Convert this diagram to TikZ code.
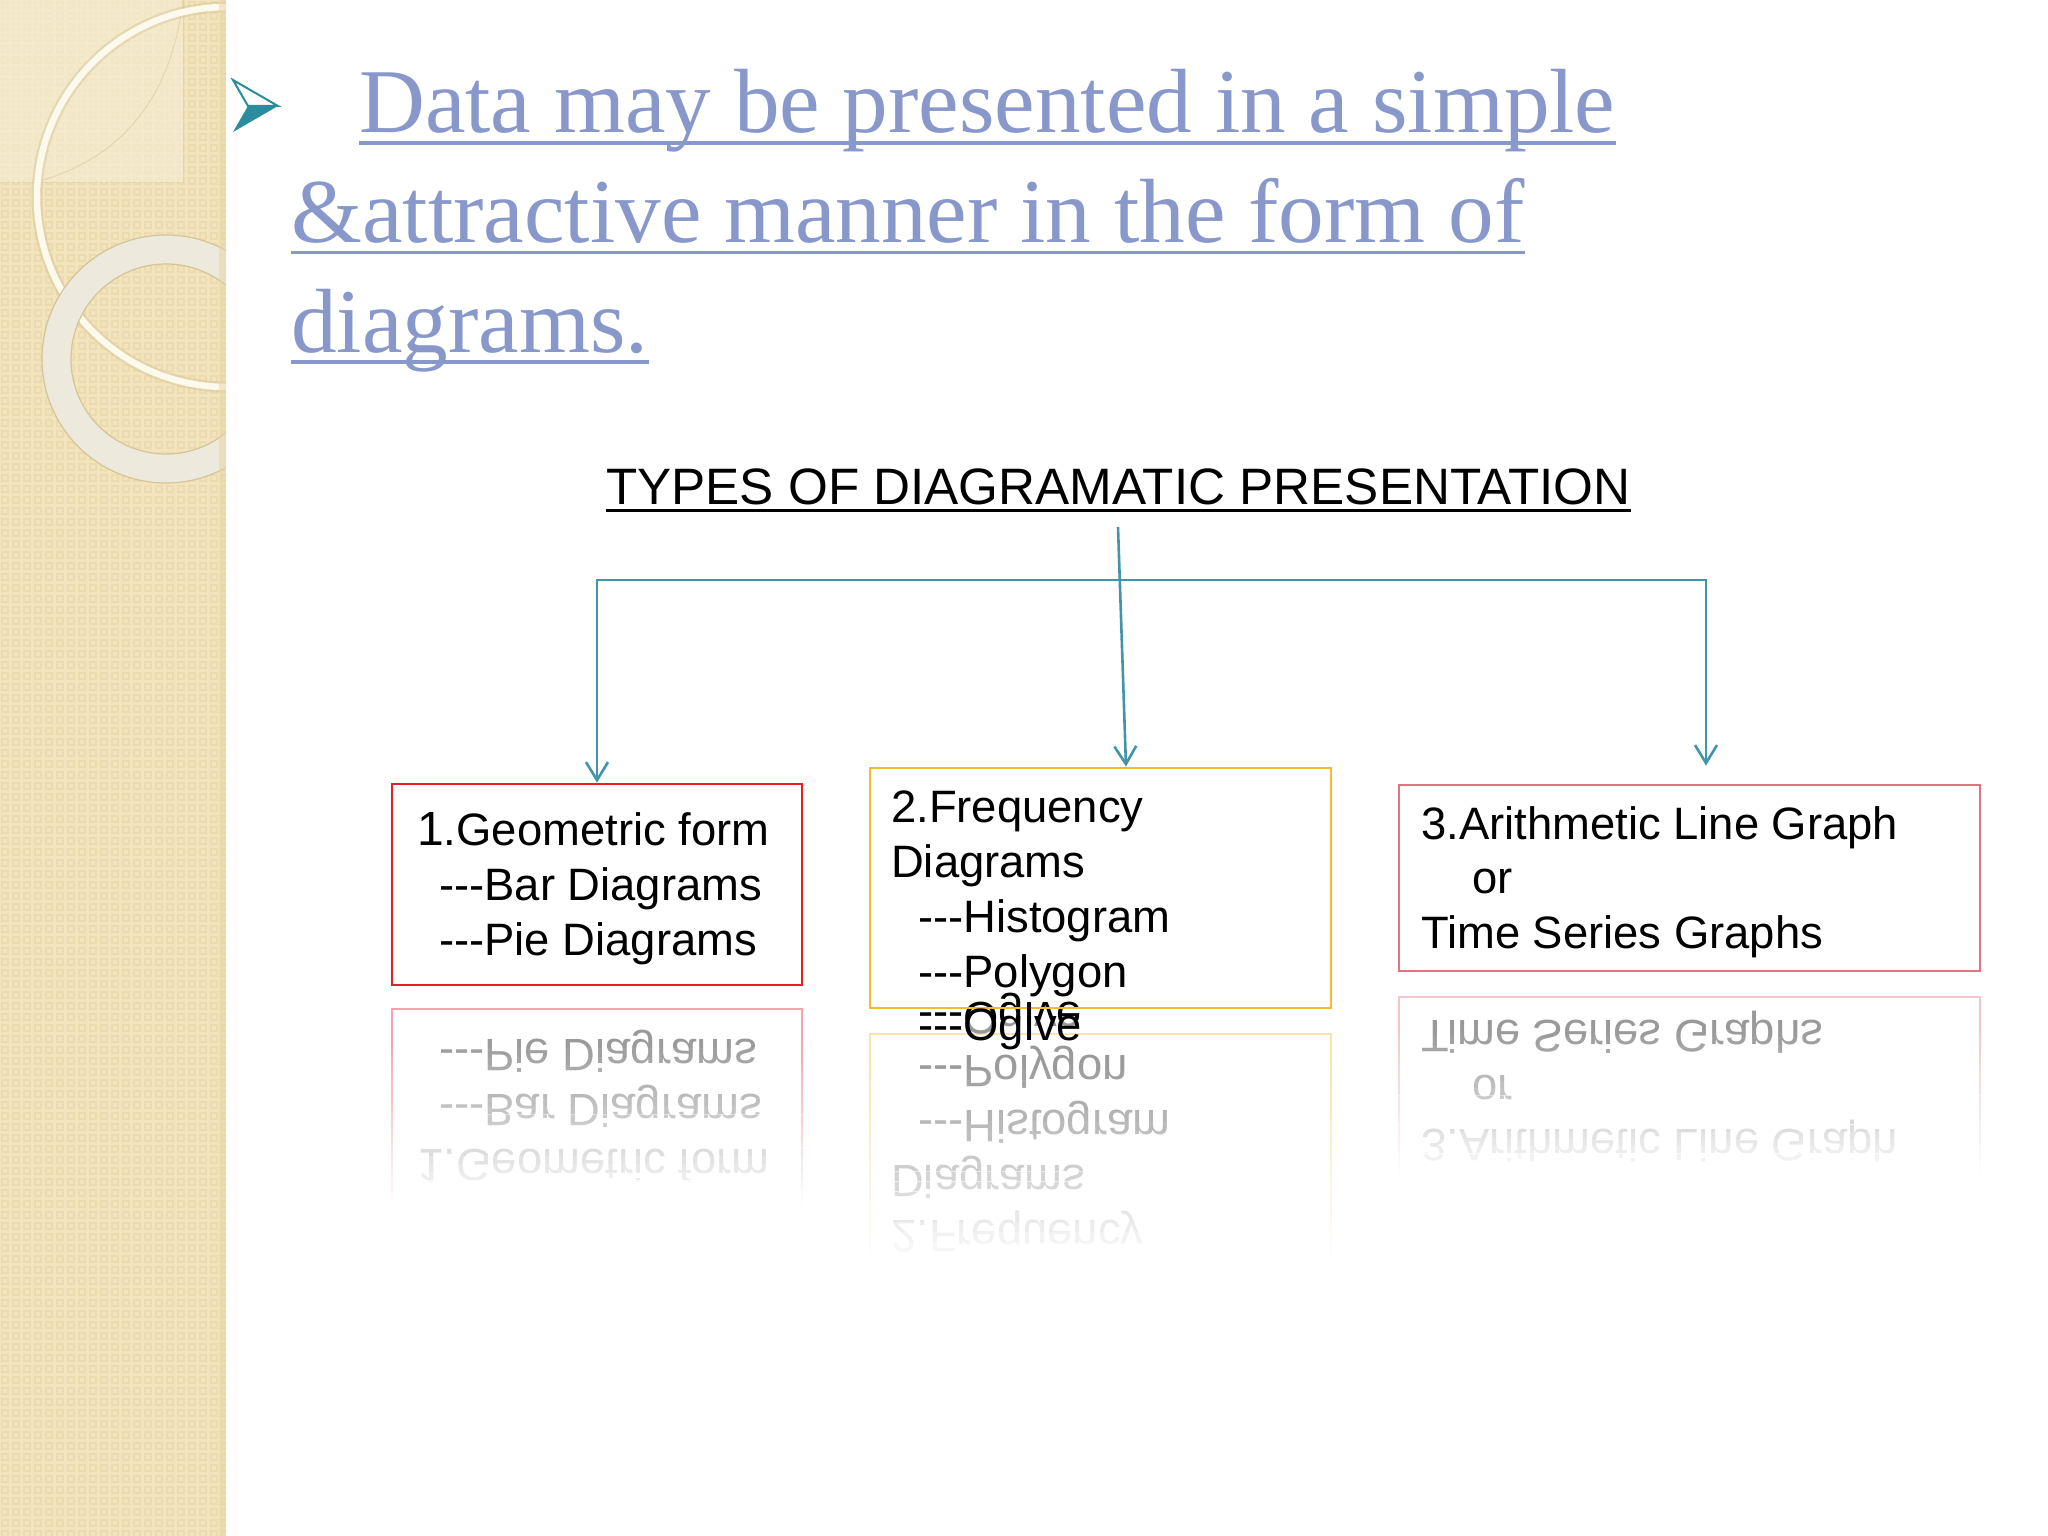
\documentclass[tikz,border=0pt]{standalone}
\usepackage{fontspec}
\setmainfont{Liberation Serif}
\newfontfamily\arialf{Liberation Sans}
\usetikzlibrary{arrows.meta}
\definecolor{stripe}{RGB}{242,228,188}
\definecolor{stripedark}{RGB}{231,213,165}
\definecolor{stripelight}{RGB}{246,238,214}
\definecolor{ringthin}{RGB}{253,249,236}
\definecolor{ringthick}{RGB}{237,233,220}
\definecolor{ringedge}{RGB}{212,196,150}
\definecolor{titleblue}{RGB}{137,152,203}
\definecolor{bulletteal}{RGB}{42,140,156}
\definecolor{conncol}{RGB}{66,148,170}
\definecolor{boxred}{RGB}{230,30,40}
\definecolor{boxorange}{RGB}{246,186,48}
\definecolor{boxpink}{RGB}{222,118,126}
\newcommand\tdash{-\kern0pt-\kern0pt-}
\newcommand\boxonecontent[1]{%
  \node[boxframe=boxred, minimum width=410pt, minimum height=201pt] (#1box) at (597,884.5) {};
  \node[bt] (#1a) at (417,845) {{\fontsize{48}{54}\selectfont 1}.Geometric form};
  \node[bt] (#1b) at (439,900) {\tdash Bar Diagrams};
  \node[bt] (#1c) at (439,955) {\tdash Pie Diagrams};
}
\newcommand\boxtwocontent[1]{%
  \node[boxframe=boxorange, minimum width=461pt, minimum height=240pt] (#1box) at (1100.5,888) {};
  \node[bt] (#1a) at (891,822) {2.Frequency};
  \node[bt] (#1b) at (891,877) {Diagrams};
  \node[bt] (#1c) at (918,932) {\tdash Histogram};
  \node[bt] (#1d) at (918,987) {\tdash Polygon};
  \node[bt] (#1e) at (918,1040) {\tdash Ogive};
}
\newcommand\boxthreecontent[1]{%
  \node[boxframe=boxpink, minimum width=581pt, minimum height=186pt] (#1box) at (1689.5,878) {};
  \node[bt] (#1a) at (1421,839) {3.Arithmetic Line Graph};
  \node[bt] (#1b) at (1472,893) {or};
  \node[bt] (#1c) at (1421,948) {Time Series Graphs};
}
\newcommand\fadeband[5]{%
  \fill[white, opacity=0.6] (#1,{#3-40}) rectangle (#2,#5);
  \foreach \i in {0,...,19}{%
    \pgfmathsetmacro\op{(\i+0.5)/20}%
    \fill[white, opacity=\op] (#1,{#3+\i*(#4-#3)/20}) rectangle (#2,{#3+(\i+1)*(#4-#3)/20+0.4});
  }
  \fill[white] (#1,#4) rectangle (#2,#5);
}
\begin{document}
\begin{tikzpicture}[x=1pt,y=-1pt,
  titletext/.style={inner sep=0pt, anchor=base west, text=titleblue, font=\fontsize{91.2}{108}\selectfont},
  uline/.style={draw=titleblue, line width=3.5pt},
  headtext/.style={inner sep=0pt, anchor=base west, font=\arialf\fontsize{51.2}{60}\selectfont},
  bt/.style={inner sep=0pt, anchor=base west, font=\arialf\fontsize{45.4}{54}\selectfont},
  boxframe/.style={draw=#1, line width=2.8pt, inner sep=0pt},
  conn/.style={draw=conncol, line width=2.6pt},
  arr/.style={conn, -{Straight Barb[length=18pt,width=22pt]}},
]
\useasboundingbox (0,0) rectangle (2048,1536);
\fill[white] (0,0) rectangle (2048,1536);
% ---- decorative stripe
\begin{scope}
  \clip (0,0) rectangle (226,1536);
  \fill[stripe] (0,0) rectangle (226,1536);
  \draw[stripedark, opacity=0.55, line width=1.3pt] \foreach \xx in {2,13,...,226} { \foreach \yy in {2,13,...,1536} { (\xx,\yy) rectangle ++(6,6) } };
  \fill[stripelight, opacity=0.6] (0,0) rectangle (183,182);
  \draw[ringedge, opacity=0.35, line width=1pt] (183,0) -- (183,182) -- (0,182);
  \draw[ringedge, opacity=0.5, line width=1pt] (183,0) .. controls (170,110) and (110,160) .. (43,180);
  \draw[ringedge, opacity=0.45, line width=11pt] (227,197) circle[radius=190pt];
  \draw[ringthin, line width=6.5pt] (227,197) circle[radius=190pt];
  \fill[ringthick, even odd rule] (166,359) circle[radius=124pt] (166,359) circle[radius=95pt];
  \draw[ringedge, line width=1.2pt] (166,359) circle[radius=124pt];
  \draw[ringedge, line width=1.2pt] (166,359) circle[radius=95pt];
  \fill[stripedark, opacity=0.5] (219,0) rectangle (226,1536);
\end{scope}
% ---- bullet and title
\fill[bulletteal] (248,106) -- (278,106) -- (233,132) -- cycle;
\draw[bulletteal, line width=2pt, fill=white, line join=miter] (233,80) -- (278,106) -- (248,106) -- cycle;
\node[titletext] (l1) at (359,132) {Data may be presented in a simple};
\node[titletext] (l2) at (291,242) {\&attractive manner in the form of};
\node[titletext] (l3) at (291,352) {diagrams.};
\draw[uline] ([yshift=-11pt]l1.base west) -- ([yshift=-11pt]l1.base east);
\draw[uline] ([yshift=-10.5pt]l2.base west) -- ([yshift=-10.5pt]l2.base east);
\draw[uline] ([yshift=-10pt]l3.base west) -- ([yshift=-10pt]l3.base east);
\node[headtext] (head) at (606,504) {TYPES OF DIAGRAMATIC PRESENTATION};
\draw[line width=3pt] ([yshift=-6.5pt]head.base west) -- ([yshift=-6.5pt]head.base east);
% ---- reflections
\begin{scope}[shift={(0,1994)}, yscale=-1, transform shape]
  \boxonecontent{ra}
\end{scope}
\begin{scope}[shift={(0,2042)}, yscale=-1, transform shape]
  \boxtwocontent{rb}
\end{scope}
\begin{scope}[shift={(0,1968)}, yscale=-1, transform shape]
  \boxthreecontent{rc}
\end{scope}
\fadeband{385}{810}{1040}{1205}{1260}
\fadeband{860}{1342}{1060}{1262}{1300}
\fadeband{1390}{1990}{1030}{1175}{1230}
% ---- real boxes
\boxonecontent{b1}
\boxtwocontent{b2}
\boxthreecontent{b3}
% ---- connectors
\coordinate (src) at (1118,527);
\coordinate (jn) at (1118.5,580);
\draw[arr] (jn) -| (b1box.north);
\draw[arr] (jn) -| ([xshift=16.5pt,yshift=18pt]b3box.north);
\draw[arr] (src) -- ([xshift=25.5pt]b2box.north);
\end{tikzpicture}
\end{document}
